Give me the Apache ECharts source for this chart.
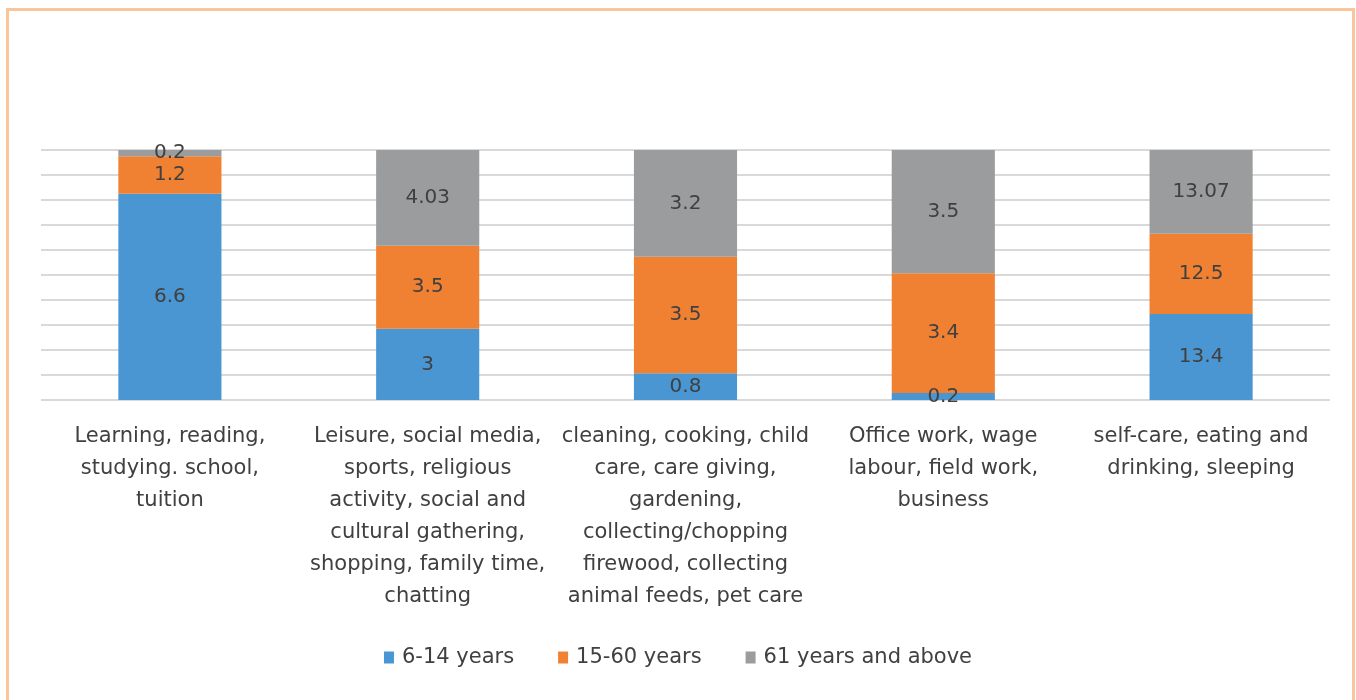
<!DOCTYPE html>
<html>
<head>
<meta charset="utf-8">
<script src="https://cdn.jsdelivr.net/npm/echarts@6/dist/echarts.min.js"></script>
<style>
  html, body { margin: 0; padding: 0; background: #fff; }
  #chart { width: 1356px; height: 700px; }
</style>
</head>
<body>
<div id="chart"></div>
<script>
const categories = [
  'Learning, reading,\nstudying. school,\ntuition',
  'Leisure, social media,\nsports, religious\nactivity, social and\ncultural gathering,\nshopping, family time,\nchatting',
  'cleaning, cooking, child\ncare, care giving,\ngardening,\ncollecting/chopping\nfirewood, collecting\nanimal feeds, pet care',
  'Office work, wage\nlabour, field work,\nbusiness',
  'self-care, eating and\ndrinking, sleeping'
];
const seriesNames = ['6-14 years', '15-60 years', '61 years and above'];
const young = [6.6, 3, 0.8, 0.2, 13.4];
const adult = [1.2, 3.5, 3.5, 3.4, 12.5];
const senior = [0.2, 4.03, 3.2, 3.5, 13.07];
const colors = ['#4A96D2', '#F08032', '#9A9C9D'];

const raw = [young, adult, senior];
const totals = categories.map((_, i) => raw.reduce((s, arr) => s + arr[i], 0));
const font = 'DejaVu Sans';

const chart = echarts.init(document.getElementById('chart'));

const series = raw.map((arr, k) => ({
  name: seriesNames[k],
  type: 'bar',
  stack: 'total',
  barWidth: '40%',
  itemStyle: { color: colors[k] },
  // 100% stacked: height is share of the column, label is the raw value
  data: arr.map((v, i) => ({ value: v / totals[i] * 100, raw: v })),
  label: {
    show: true,
    position: 'inside',
    color: '#404040',
    fontSize: 20,
    fontFamily: font,
    formatter: (p) => String(p.data.raw)
  }
}));

chart.setOption({
  animation: false,
  textStyle: { fontFamily: font },
  graphic: [{
    type: 'rect',
    shape: { x: 7.5, y: 9.5, width: 1346, height: 720 },
    style: { fill: 'none', stroke: '#FAC59B', lineWidth: 3 }
  }],
  grid: { left: 41, right: 26, top: 150, bottom: 300 },
  legend: {
    bottom: 27,
    left: 'center',
    itemWidth: 10,
    itemHeight: 12,
    itemGap: 44,
    icon: 'rect',
    textStyle: { fontSize: 21, color: '#404040', fontFamily: font, padding: [0, 0, 0, 3] },
    data: seriesNames
  },
  xAxis: {
    type: 'category',
    data: categories,
    axisLine: { show: false },
    axisTick: { show: false },
    axisLabel: {
      interval: 0,
      margin: 21,
      fontSize: 21,
      lineHeight: 32,
      color: '#404040',
      fontFamily: font,
      verticalAlign: 'top'
    }
  },
  yAxis: {
    type: 'value',
    min: 0,
    max: 100,
    interval: 10,
    axisLabel: { show: false },
    axisLine: { show: false },
    axisTick: { show: false },
    splitLine: { lineStyle: { color: '#D9D9D9', width: 2 } }
  },
  series
});
</script>
</body>
</html>
